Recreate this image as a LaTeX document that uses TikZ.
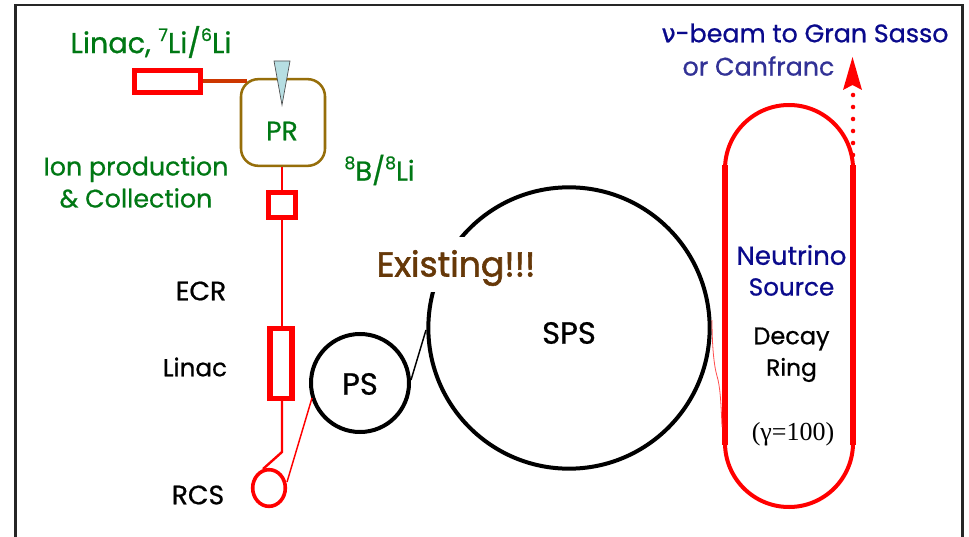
\documentclass[tikz,border=0pt]{standalone}
\usepackage{fontspec}
\setmainfont[RawFeature={embolden=0.7}]{Poppins}
\newfontfamily\djv[RawFeature={embolden=0.7}]{DejaVu Sans}
\newfontfamily\tim{Liberation Serif}
\newfontfamily\heavy[RawFeature={embolden=1.6}]{Poppins}
\usetikzlibrary{arrows.meta}
\definecolor{grn}{RGB}{0,120,20}
\definecolor{nav}{RGB}{10,10,140}
\definecolor{nav2}{RGB}{50,50,150}
\definecolor{brn}{RGB}{150,110,10}
\definecolor{exi}{RGB}{102,56,8}
\definecolor{feed}{RGB}{205,55,0}
\definecolor{wedge}{RGB}{182,222,226}
\newcommand{\sq}[1]{\raisebox{0.42em}{\fontsize{13}{13}\selectfont #1}}
\newcommand{\fs}[1]{\fontsize{#1}{24}\selectfont}
\tikzset{
 lbl/.style={inner sep=0pt,font=\fs{19},align=center},
 gl/.style={lbl,text=grn},
 bl/.style={lbl,text=black},
 redbox/.style={draw=red,line width=3.9pt,fill=white,inner sep=0pt},
 beam/.style={draw=red,line width=1.8pt},
 thinred/.style={draw=red,line width=1.1pt},
}
\begin{document}
\begin{tikzpicture}[x=0.75pt,y=0.75pt]
\useasboundingbox (0,0) rectangle (969,536);
\fill[white] (0,0) rectangle (969,536);
% frame
\draw[line width=1.6pt,draw=black!85] (15.5,-5) -- (15.5,531) -- (962.5,531) -- (962.5,-5);
\coordinate (rcsfoot) at (263,67);
\node (pr) [draw=brn,line width=1.9pt,rounded corners=13pt,minimum width=63pt,minimum height=65pt,inner sep=0pt] at (283,413.5) {};
\node (lin1) [redbox,minimum width=50pt,minimum height=17pt] at (167.5,454.5) {};
\draw[feed,line width=3pt] (lin1.east) -- (247,454.5);
\node (buf) [redbox,minimum width=20pt,minimum height=19pt] at (282,331) {};
\node (lin2) [redbox,minimum width=16.5pt,minimum height=52pt] at (281,172.5) {};
\draw[beam] (pr.south -| buf.north) -- (buf.north);
\draw[beam] (buf.south) -- (lin2.north -| buf.south);
\coordinate (kink) at (282,84);
\draw[beam] (lin2.south -| kink) -- (kink) -- (rcsfoot);
\node (rcs) [draw=red,line width=2.7pt,circle,minimum size=27.5pt,inner sep=0pt,xscale=0.89] at (269,48) {};
\fill[wedge,draw=black!70,line width=0.5pt] (274,475) -- (290,475) -- (282,431) -- cycle;
\node[gl,font=\fs{20}] at (282,405) {PR};
% rings
\node (ps) [draw=black,line width=3pt,circle,minimum size=73.5pt,inner sep=0pt] at (360,153) {};
\node[bl,font=\fs{23}] at (360,152) {PS};
\node (sps) [draw=black,line width=3pt,circle,minimum size=211pt,inner sep=0pt] at (569,208) {};
\node[bl,font=\fs{23}] at (569,203) {SPS};
\coordinate (pst) at (411,156);
\coordinate (spst) at (426,206);
\draw[line width=1.1pt] (pst) -- (spst);
\coordinate (rcst) at (287,54);
\coordinate (pstl) at (312,138);
\draw[thinred] (rcst) -- (pstl);
% decay ring
\draw[red,line width=3pt] (725,367) arc (180:0:48pt);
\draw[red,line width=3pt] (725,93) arc (180:360:48pt);
\draw[red,line width=3.8pt] (725,371) -- (725,91);
\draw[red,line width=4.4pt] (853,371) -- (853,91);
\draw[red!70,line width=0.6pt] (712,216) .. controls (712,190) and (714,170) .. (717,160) .. controls (720,150) and (721,135) .. (722,109);
% extraction
\coordinate (exa) at (853,381);
\coordinate (exb) at (852.5,479);
\draw[red,line width=3.4pt,dash pattern=on 0pt off 9pt,line cap=round] (exa) -- (853,446);
\fill[red] (exb) -- (862,446) -- (852.5,451) -- (843,446) -- cycle;
% white plate under Existing
\node[fill=white,inner sep=0pt,minimum width=120pt,minimum height=41pt] at (457,271.5) {};
% labels
\node[gl,font=\fs{21.5}] at (151,494) {Linac, \sq{7}Li/\sq{6}Li};
\node[gl] at (136,354) {Ion production\\\& Collection};
\node[gl,font=\fs{20.5}] at (379.5,366) {\sq{8}B/\sq{8}Li};
\node[bl,font=\fs{20}] at (201,245) {ECR};
\node[bl,font=\fs{18.5}] at (195,169) {Linac};
\node[bl,font=\fs{20}] at (198,41) {RCS};
\node[lbl,text=exi,font=\heavy\fs{26}] at (456,268) {Existing!!!};
\node[lbl,text=nav] at (805,503) {{\djv ν}-beam to Gran Sasso};
\node[lbl,text=nav2] at (758.5,470) {or Canfranc};
\node[lbl,text=nav,font=\fs{19.5}] at (791.5,281) {Neutrino};
\node[lbl,text=nav,font=\fs{18.5}] at (791.5,249) {Source};
\node[bl,font=\fs{18}] at (791.5,197) {Decay};
\node[bl,font=\fs{17.5}] at (791.5,166) {Ring};
\node[lbl,text=black,font=\tim\fs{19.5}] at (793,102) {(γ=100)};
\end{tikzpicture}
\end{document}
